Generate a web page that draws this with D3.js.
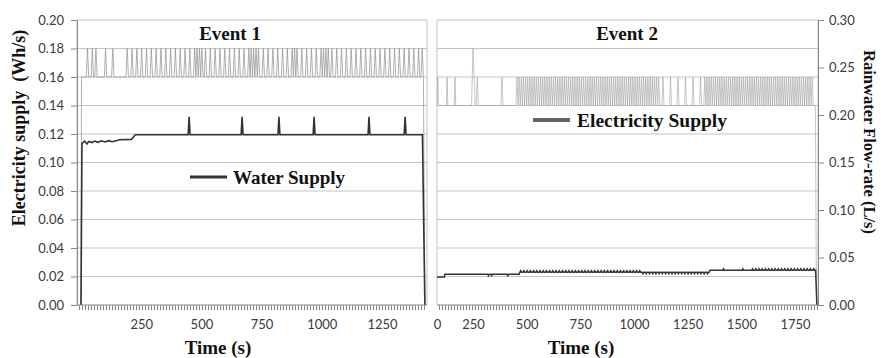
<!DOCTYPE html>
<html>
<head>
<meta charset="utf-8"/>
<script src="https://cdn.jsdelivr.net/npm/d3@7"></script>
<style>
    body { margin: 0; background: #fff; }
    svg { display: block; }
    .tick text { font-family: Lato, "Liberation Sans", sans-serif; font-size: 13px; fill: #3a3a3a; }
    .ttl { font-family: "Liberation Serif", "Times New Roman", serif; font-weight: bold; fill: #111; }
</style>
</head>
<body>
<svg width="882" height="358"></svg>
<script>
    // ---- tick labels ----
    const yTicksL = [0, 0.02, 0.04, 0.06, 0.08, 0.10, 0.12, 0.14, 0.16, 0.18, 0.20];
    const yTicksR = [0, 0.05, 0.10, 0.15, 0.20, 0.25, 0.30];
    const xTicks1 = [250, 500, 750, 1000, 1250];
    const xTicks2 = [0, 250, 500, 750, 1000, 1250, 1500, 1750];

    // ---- Event 1 ----
    // dark line: [time (s), value]
    const water1 = [[0, 0], [4, 0.1135], [15, 0.1150], [25, 0.1130], [32, 0.1148], [45, 0.1140],
        [58, 0.1150], [70, 0.1142], [85, 0.1152], [100, 0.1144], [115, 0.1153], [130, 0.1146],
        [150, 0.1155], [160, 0.1160], [210, 0.1162], [225, 0.1195], [1418, 0.1195], [1428, 0]];
    const water1Spikes = [449, 669, 822, 968, 1196, 1346];
    const water1SpikeTop = 0.132;
    // grey on/off line, one char per 5 s (from t = 2 s): 0 -> 0.16, 1 -> 0.18
    const elec1Levels = [0.16, 0.18];
    const elec1 =
        "00000 10001 00100 00000 10000 01000 00000 00010" +   // 0-200 s
        "00100 01000 10001 00010 00100 01000 10001 00010" +   // 200-400 s
        "00100 01000 10001 01010 10010 00100 01000 10001" +   // 400-600 s
        "00010 00100 01000 10001 01010 10100 01000 10001" +   // 600-800 s
        "00010 00100 01000 10101 00010 00100 01000 10001" +   // 800-1000 s
        "01010 10010 00100 01000 10001 00010 00100 01000" +   // 1000-1200 s
        "10001 00010 00100 01000 10001 00010 00100 01000" +   // 1200-1400 s
        "10010";                                              // 1400-1425 s

    // ---- Event 2 ----
    // dark line base level steps [time (s), L/s] and small bumps, one char per 15 s
    const base2 = [[0, 0.0295], [55, 0.0325], [469, 0.0345], [1354, 0.0365], [1846, 0.0365]];
    const bumps2 =
        "..... ..... ..... ..... . -- .... - ..." +
        "++++++++++ ++++++++++ ++++++++++ ++++++++" +
        "---------- ---------- -" +
        ".... + ..... + .. ++++++++++ ++++++++++ .";
    // grey on/off line, one char per 5 s: 0 -> 0.21, 1 -> 0.24, 2 -> 0.27
    const elec2Levels = [0.21, 0.24, 0.27];
    const elec2 =
        "01000 00000 00001 00000 00000 10000 00000 00000 00000 00001 " +
        "21001 00000 00000 00000 00000 00100 00000 00000 0" +            // 0-455 s
        "1010101010 1010101010 1010101010 1010101010 1010101010 " +
        "1010101010 1010101010 1010101010 1010101010 1010101010 " +
        "1010101010 1010101010 1010101010 1010" +                         // 455-1125 s
        "00100 00001 00000 01000 00010 00000 10000 00100 0" +            // 1125-1330 s
        "1010101010 1010101010 1010101010 1010101010 1010101010 " +
        "1010101010 1010101010 1010101010 1010101010 1010101010 10" +   // 1330-1840 s
        "00";

    // ---- scales ----
    const xL = d3.scaleLinear().domain([0, 1250]).range([81, 382]);
    const xR = d3.scaleLinear().domain([0, 250, 1750]).range([437, 473, 795]);
    const yL = d3.scaleLinear().domain([0, 0.2]).range([305, 20]);
    const yR = d3.scaleLinear().domain([0, 0.3]).range([305, 20]);

    const svg = d3.select("svg");
    const gridC = "#c4c4c4", axisC = "#868686";
    const panels = [{x0: 77, x1: 427, x: xL}, {x0: 437, x1: 818, x: xR}];

    // gridlines + frame
    panels.forEach(p => {
        svg.append("g").selectAll("line")
            .data(yTicksL.slice(1)).enter()
            .append("line")
            .attr("x1", p.x0).attr("x2", p.x1)
            .attr("y1", d => yL(d)).attr("y2", d => yL(d))
            .attr("stroke", gridC);
        svg.append("line").attr("x1", p.x1).attr("x2", p.x1).attr("y1", 20).attr("y2", 305).attr("stroke", gridC);
        svg.append("line").attr("x1", p.x0).attr("x2", p.x0).attr("y1", 20).attr("y2", 305).attr("stroke", gridC);
    });

    // ---- series ----
    const strip = s => s.replace(/ /g, "");

    let e1 = [[0, 0]].concat(strip(elec1).split("").map((c, i) => [2 + 5 * i, elec1Levels[+c]]));
    e1.push([1428, 0]);

    let w1 = water1.slice();
    water1Spikes.forEach(t => {
        w1.push([t - 4, 0.1195], [t, water1SpikeTop], [t + 4, 0.1195]);
    });
    w1.sort((a, b) => a[0] - b[0]);

    let e2 = strip(elec2).split("").map((c, i) => [5 * i, elec2Levels[+c]]);
    e2.push([1850, 0]);

    function baseAt(t) {
        let v = base2[0][1];
        base2.forEach(b => { if (b[0] <= t) v = b[1]; });
        return v;
    }
    let w2 = [base2[0]];
    base2.slice(1).forEach((b, k) => { w2.push([b[0] - 4, base2[k][1]], b); });
    strip(bumps2).split("").forEach((c, i) => {
        if (c === ".") return;
        const t = 15 * i + 7, b = baseAt(t);
        w2.push([t - 4, b], [t, b + (c === "+" ? 0.0016 : -0.0016)], [t + 4, b]);
    });
    w2.sort((a, b) => a[0] - b[0]);
    w2.push([1852, 0]);

    const lineL = d3.line().x(d => xL(d[0])).y(d => yL(d[1]));
    const lineR = d3.line().x(d => xR(d[0])).y(d => yR(d[1]));

    svg.append("path").attr("d", lineL(e1)).attr("fill", "none").attr("stroke", "#969696").attr("stroke-width", 0.75);
    svg.append("path").attr("d", lineR(e2)).attr("fill", "none").attr("stroke", "#a0a0a0").attr("stroke-width", 0.6);
    svg.append("path").attr("d", lineL(w1)).attr("fill", "none").attr("stroke", "#333").attr("stroke-width", 1.6);
    svg.append("path").attr("d", lineR(w2)).attr("fill", "none").attr("stroke", "#333").attr("stroke-width", 1.5);

    // ---- axes ----
    function styleAxis(g) {
        g.selectAll(".domain").attr("stroke", axisC);
        g.selectAll(".tick line").attr("stroke", axisC);
    }
    svg.append("g").attr("transform", "translate(77,0)")
        .call(d3.axisLeft(yL).tickValues(yTicksL).tickSize(6).tickSizeOuter(0).tickPadding(7).tickFormat(d3.format(".2f")))
        .call(styleAxis);
    svg.append("g").attr("transform", "translate(818,0)")
        .call(d3.axisRight(yR).tickValues(yTicksR).tickSize(6).tickSizeOuter(0).tickPadding(5).tickFormat(d3.format(".2f")))
        .call(styleAxis);

    panels.forEach((p, k) => {
        // dense category ticks under each panel
        const minor = d3.range(p.x0 + 2, p.x1, 3).map(v => p.x.invert(v));
        svg.append("g").attr("transform", "translate(0,305)")
            .call(d3.axisBottom(p.x).tickValues(minor).tickSize(5).tickFormat(""))
            .call(g => g.select(".domain").remove())
            .call(styleAxis);
        svg.append("line").attr("x1", p.x0).attr("x2", p.x1).attr("y1", 305).attr("y2", 305).attr("stroke", axisC);
        svg.append("g").attr("transform", "translate(0,305)")
            .call(d3.axisBottom(p.x).tickValues(k === 0 ? xTicks1 : xTicks2).tickSize(0).tickPadding(15).tickFormat(d3.format("d")))
            .call(g => g.select(".domain").remove());
    });

    // ---- titles & legends ----
    svg.append("text").attr("class", "ttl").attr("x", 230).attr("y", 40).attr("text-anchor", "middle").style("font-size", "19px").text("Event 1");
    svg.append("text").attr("class", "ttl").attr("x", 627).attr("y", 40).attr("text-anchor", "middle").style("font-size", "19px").text("Event 2");
    svg.append("text").attr("class", "ttl").attr("x", 218).attr("y", 354).attr("text-anchor", "middle").style("font-size", "19px").text("Time (s)");
    svg.append("text").attr("class", "ttl").attr("x", 581).attr("y", 354).attr("text-anchor", "middle").style("font-size", "19px").text("Time (s)");

    svg.append("text").attr("class", "ttl").attr("transform", "translate(25,128) rotate(-90)")
        .attr("text-anchor", "middle").style("font-size", "18px").style("white-space", "pre")
        .text("Electricity supply  (Wh/s)");
    svg.append("text").attr("class", "ttl").attr("transform", "translate(864,142) rotate(90)")
        .attr("text-anchor", "middle").style("font-size", "16.5px")
        .text("Rainwater Flow-rate (L/s)");

    svg.append("line").attr("x1", 190).attr("x2", 227).attr("y1", 177).attr("y2", 177).attr("stroke", "#333").attr("stroke-width", 3);
    svg.append("text").attr("class", "ttl").attr("x", 233).attr("y", 183.5).style("font-size", "19px").text("Water Supply");
    svg.append("line").attr("x1", 533).attr("x2", 570).attr("y1", 120).attr("y2", 120).attr("stroke", "#666").attr("stroke-width", 4);
    svg.append("text").attr("class", "ttl").attr("x", 577).attr("y", 126.5).style("font-size", "19.5px").text("Electricity Supply");
</script>
</body>
</html>
